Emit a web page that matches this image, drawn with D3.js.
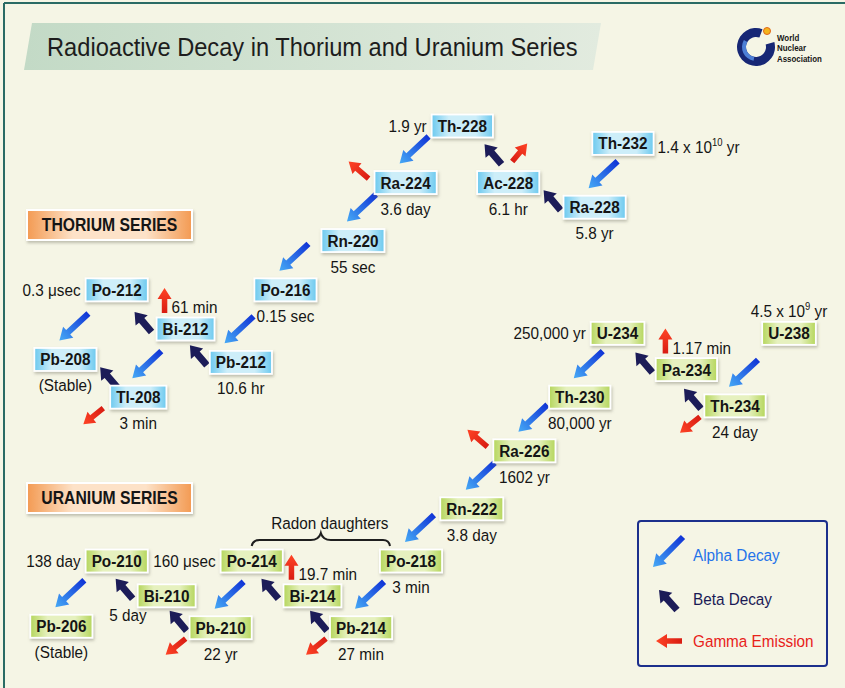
<!DOCTYPE html>
<html>
<head>
<meta charset="utf-8">
<script src="https://cdn.jsdelivr.net/npm/d3@7"></script>
<style>
  body { margin: 0; background: #f5f5e5; }
  svg text { font-family: "Liberation Sans", Arial, sans-serif; }
</style>
</head>
<body>
<svg id="chart"></svg>
<script>
// ---- thorium series: nuclide, half-life, where the half-life sits, grid column / row
const thNames     = ["Th-232", "Ra-228", "Ac-228", "Th-228", "Ra-224", "Rn-220", "Po-216", "Pb-212", "Bi-212", "Po-212", "Tl-208", "Pb-208"];
const thHalfLife  = ["1.4 x 10^10 yr", "5.8 yr", "6.1 hr", "1.9 yr", "3.6 day", "55 sec", "0.15 sec", "10.6 hr", "61 min", "0.3 μsec", "3 min", "(Stable)"];
const thLabelSide = ["right", "below", "below", "left", "below", "below", "below", "below", "gamma", "left", "below", "below"];
const thCol       = [20.85, 19.8, 16.6, 14.9, 12.8, 10.85, 8.35, 6.7, 4.65, 2.1, 2.9, 0.2];
const thRow       = [0.6, 2.8, 1.95, 0, 1.95, 3.95, 5.65, 8.15, 7.0, 5.65, 9.35, 8.05];

// ---- uranium series
const uNames     = ["U-238", "Th-234", "Pa-234", "U-234", "Th-230", "Ra-226", "Rn-222", "Po-218", "Pb-214", "Bi-214", "Po-214", "Pb-210", "Bi-210", "Po-210", "Pb-206"];
const uHalfLife  = ["4.5 x 10^9 yr", "24 day", "1.17 min", "250,000 yr", "80,000 yr", "1602 yr", "3.8 day", "3 min", "27 min", "19.7 min", "160 μsec", "22 yr", "5 day", "138 day", "(Stable)"];
const uLabelSide = ["above", "below", "gamma", "left", "below", "below", "below", "below", "below", "gamma", "left", "below", "belowleft", "left", "below"];
const uCol       = [27.0, 25.0, 23.2, 20.65, 19.25, 17.2, 15.25, 13.0, 11.15, 9.35, 7.1, 5.95, 3.95, 2.1, 0.05];
const uRow       = [7.15, 9.65, 8.4, 7.15, 9.35, 11.2, 13.2, 15.0, 17.3, 16.2, 15.0, 17.3, 16.2, 15.0, 17.25];

// decays: [from, to, type]
const thDecays = [
  ["Th-232", "Ra-228", "alpha"], ["Ra-228", "Ac-228", "beta"], ["Ac-228", "Th-228", "beta"],
  ["Th-228", "Ra-224", "alpha"], ["Ra-224", "Rn-220", "alpha"], ["Rn-220", "Po-216", "alpha"],
  ["Po-216", "Pb-212", "alpha"], ["Pb-212", "Bi-212", "beta"], ["Bi-212", "Po-212", "beta"],
  ["Bi-212", "Tl-208", "alpha"], ["Po-212", "Pb-208", "alpha"], ["Tl-208", "Pb-208", "beta"]
];
const uDecays = [
  ["U-238", "Th-234", "alpha"], ["Th-234", "Pa-234", "beta"], ["Pa-234", "U-234", "beta"],
  ["U-234", "Th-230", "alpha"], ["Th-230", "Ra-226", "alpha"], ["Ra-226", "Rn-222", "alpha"],
  ["Rn-222", "Po-218", "alpha"], ["Po-218", "Pb-214", "alpha"], ["Pb-214", "Bi-214", "beta"],
  ["Bi-214", "Po-214", "beta"], ["Po-214", "Pb-210", "alpha"], ["Pb-210", "Bi-210", "beta"],
  ["Bi-210", "Po-210", "beta"], ["Po-210", "Pb-206", "alpha"]
];

// gamma emissions: [nuclide, direction]
const thGamma = [["Ra-224", "ul"], ["Ac-228", "ur"], ["Bi-212", "u"], ["Tl-208", "dl"]];
const uGamma  = [["Pa-234", "u"], ["Th-234", "dl"], ["Ra-226", "ul"], ["Bi-214", "u"], ["Pb-214", "dl"], ["Pb-210", "dl"]];

const radonDaughters = ["Po-218", "Pb-214", "Bi-214", "Po-214"];
const legendItems = ["Alpha Decay", "Beta Decay", "Gamma Emission"];

const W = 845, H = 688;
const SX = 0.9; // the original lettering is slightly condensed

const svg = d3.select("#chart").attr("width", W).attr("height", H);

const x = d3.scaleLinear().domain([0, 28]).range([60, 816]);
const y = d3.scaleLinear().domain([0, 18]).range([126, 648]);

// ---- defs
const defs = svg.append("defs");
function hGrad(id, edge, mid) {
  const g = defs.append("linearGradient").attr("id", id);
  [[0, edge], [0.28, mid], [0.72, mid], [1, edge]].forEach(([o, c]) =>
    g.append("stop").attr("offset", o).attr("stop-color", c));
}
hGrad("thBox", "#6cc9ef", "#cdeef9");
hGrad("uBox", "#b5d65c", "#e6f1bf");
hGrad("seriesBox", "#f39a52", "#fde2c8");

function lGrad(id, c0, c1) {
  const g = defs.append("linearGradient").attr("id", id);
  g.append("stop").attr("offset", 0).attr("stop-color", c0);
  g.append("stop").attr("offset", 1).attr("stop-color", c1);
}
lGrad("alphaFill", "#1034d6", "#46aaf6");
lGrad("gammaFill", "#d81c12", "#ff4426");
lGrad("banner", "#c3dac6", "#e2ebdf");

const sh = defs.append("filter").attr("id", "shadow")
  .attr("x", "-20%").attr("y", "-40%").attr("width", "140%").attr("height", "180%");
sh.append("feGaussianBlur").attr("in", "SourceAlpha").attr("stdDeviation", 1.5);
sh.append("feOffset").attr("dx", 1).attr("dy", 1.5).attr("result", "b");
sh.append("feFlood").attr("flood-color", "#7a7a6a").attr("flood-opacity", 0.45);
sh.append("feComposite").attr("in2", "b").attr("operator", "in");
const mg = sh.append("feMerge");
mg.append("feMergeNode");
mg.append("feMergeNode").attr("in", "SourceGraphic");

// ---- background and frame
svg.append("rect").attr("width", W).attr("height", H).attr("fill", "#f5f5e5");
svg.append("line").attr("x1", 4).attr("x2", W).attr("y1", 3).attr("y2", 3)
  .attr("stroke", "#2a6b64").attr("stroke-width", 2);
svg.append("line").attr("x1", 4).attr("x2", 4).attr("y1", 3).attr("y2", H)
  .attr("stroke", "#2a6b64").attr("stroke-width", 2);

// title banner
svg.append("path")
  .attr("d", "M32,23L601,23L593,70L24,70Z")
  .attr("fill", "url(#banner)");

const gArrows = svg.append("g");
const gBoxes = svg.append("g");
const gText = svg.append("g");

function addText(parent, tx, ty, str, opt = {}) {
  const size = opt.size || 17;
  const g = parent.append("g").attr("transform", `translate(${tx},${ty}) scale(${opt.sx || SX},1)`);
  const t = g.append("text")
    .attr("text-anchor", opt.anchor || "middle")
    .attr("dy", "0.35em")
    .attr("font-size", size)
    .attr("font-weight", opt.weight || "normal")
    .attr("fill", opt.fill || "#151515");
  const m = str.match(/^(.*)\^(\d+)(.*)$/);
  if (m) {
    t.append("tspan").text(m[1]);
    t.append("tspan").attr("font-size", size * 0.62).attr("dy", -size * 0.42).text(m[2]);
    t.append("tspan").attr("dy", size * 0.42).text(m[3]);
  } else {
    t.text(str);
  }
  return t;
}

// ---- arrows
const arrowStyle = {
  alpha: { shaft: 6, head: 15, headLen: 12, fill: "url(#alphaFill)" },
  beta:  { shaft: 7, head: 16, headLen: 11, fill: "#1c1c58" },
  gamma: { shaft: 5.5, head: 14, headLen: 11, fill: "url(#gammaFill)" }
};
function arrow(x1, y1, x2, y2, kind, parent = gArrows) {
  const s = arrowStyle[kind];
  const L = Math.hypot(x2 - x1, y2 - y1);
  const ang = Math.atan2(y2 - y1, x2 - x1) * 180 / Math.PI;
  const hw = s.shaft / 2, HW = s.head / 2, b = L - s.headLen;
  parent.append("path")
    .attr("transform", `translate(${x1},${y1}) rotate(${ang})`)
    .attr("d", `M0,${-hw}L${b},${-hw}L${b},${-HW}L${L},0L${b},${HW}L${b},${hw}L0,${hw}Z`)
    .attr("fill", s.fill);
}

// ---- nuclide boxes
const pos = {};
function drawSeries(names, halfLives, sides, cols, rows, fill) {
  names.forEach((name, i) => {
    const cx = x(cols[i]), cy = y(rows[i]);
    const t = addText(gText, cx, cy, name, { weight: "bold" });
    const w = t.node().getComputedTextLength() * SX + 12;
    gBoxes.append("rect")
      .attr("x", cx - w / 2).attr("y", cy - 11.5)
      .attr("width", w).attr("height", 23)
      .attr("fill", fill).attr("stroke", "#ffffff").attr("stroke-width", 1.8)
      .attr("filter", "url(#shadow)");

    let lx = cx, ly = cy + 26, anchor = "middle";
    switch (sides[i]) {
      case "left":      lx = cx - w / 2 - 5; ly = cy; anchor = "end"; break;
      case "right":     lx = cx + w / 2 + 4; ly = cy + 4; anchor = "start"; break;
      case "above":     ly = cy - 22; break;
      case "gamma":     lx = cx - 14; ly = cy - 22; anchor = "start"; break;
      case "belowleft": lx = cx - 20; ly = cy + 19; anchor = "end"; break;
    }
    const lt = addText(gText, lx, ly, halfLives[i], { anchor });
    const lw = lt.node().getComputedTextLength() * SX;
    const x0 = anchor === "middle" ? lx - lw / 2 : anchor === "end" ? lx - lw : lx;
    pos[name] = { cx, cy, w, side: sides[i], lab: { x0, x1: x0 + lw, y0: ly - 9, y1: ly + 9 } };
  });
}
drawSeries(thNames, thHalfLife, thLabelSide, thCol, thRow, "url(#thBox)");
drawSeries(uNames, uHalfLife, uLabelSide, uCol, uRow, "url(#uBox)");

// arrows sit in the gap between the two boxes, clear of the half-life texts
function drawDecays(decays) {
  decays.forEach(([from, to, kind]) => {
    const s = pos[from], e = pos[to];
    if (kind === "alpha") {
      let hx = e.cx - 6, hy = e.cy - 19, tx = hx + 29, ty = hy - 27;
      if (s.side === "below" && ty >= s.lab.y0 - 2 && tx > s.lab.x0 - 3) {
        const d = tx - (s.lab.x0 - 3);
        hx -= d; tx -= d;
      }
      arrow(tx, ty, hx, hy, "alpha");
    } else if (s.cy - e.cy > 45) {
      const mx = (s.cx - s.w / 2 + e.cx + e.w / 2) / 2 + 8;
      const my = (s.cy - 11.5 + e.cy + 11.5) / 2;
      arrow(mx + 8.5, my + 10, mx - 8.5, my - 10, "beta");
    } else {
      let tx = s.cx - 34, ty = s.cy + 3, hx = tx - 17, hy = ty - 20;
      if (e.side === "below") {
        const d = e.lab.x1 + 8 - hx;
        if (d > 0) { tx += d; hx += d; ty -= d; hy -= d; }
      }
      arrow(tx, ty, hx, hy, "beta");
    }
  });
}
drawDecays(thDecays);
drawDecays(uDecays);

const gammaOffset = {
  dl: [[-35, 11], [-55, 27]],
  ul: [[-37, -4], [-57, -21]],
  u:  [[-21, -16], [-21, -41]],
  ur: [[4, -21], [19, -39]]
};
thGamma.concat(uGamma).forEach(([name, dir]) => {
  const p = pos[name], [t, h] = gammaOffset[dir];
  arrow(p.cx + t[0], p.cy + t[1], p.cx + h[0], p.cy + h[1], "gamma");
});

// ---- title
addText(svg, 47, 47, "Radioactive Decay in Thorium and Uranium Series", { size: 26, anchor: "start", fill: "#1d1d1d", sx: 0.91 });

// ---- World Nuclear Association logo
const logo = svg.append("g").attr("transform", "translate(756,47)");
logo.append("path")
  .attr("d", d3.arc()({ innerRadius: 10, outerRadius: 19, startAngle: 75 * Math.PI / 180, endAngle: 380 * Math.PI / 180 }))
  .attr("fill", "#172775");
logo.append("path")
  .attr("d", d3.arc()({ innerRadius: 10, outerRadius: 14, startAngle: 190 * Math.PI / 180, endAngle: 300 * Math.PI / 180 }))
  .attr("fill", "#4d7fd6");
logo.append("circle").attr("cx", 11).attr("cy", -16).attr("r", 3.5)
  .attr("fill", "#f4b41c").attr("stroke", "#e0661a").attr("stroke-width", 1);
["World", "Nuclear", "Association"].forEach((w, i) =>
  addText(svg, 777, 37.5 + i * 10.5, w, { size: 8.8, weight: "bold", anchor: "start", sx: 0.9 }));

// ---- series labels
[["THORIUM SERIES", 210], ["URANIUM SERIES", 483]].forEach(([txt, top]) => {
  svg.append("rect").attr("x", 27).attr("y", top).attr("width", 165).attr("height", 30)
    .attr("fill", "url(#seriesBox)").attr("stroke", "#ffffff").attr("stroke-width", 2)
    .attr("filter", "url(#shadow)");
  addText(svg, 109.5, top + 15, txt, { weight: "bold", size: 17.5 });
});

// ---- radon daughters brace
const rdX = radonDaughters.map(n => pos[n].cx);
const bl = d3.min(rdX), br = d3.max(rdX) - 21, by = pos["Po-214"].cy - 15, bm = (bl + br) / 2;
svg.append("path")
  .attr("d", `M${bl},${by}Q${bl + 1},${by - 6} ${bl + 8},${by - 6}L${bm - 10},${by - 6}` +
             `Q${bm - 2},${by - 6} ${bm},${by - 13}Q${bm + 2},${by - 6} ${bm + 10},${by - 6}` +
             `L${br - 7},${by - 6}Q${br - 1},${by - 6} ${br},${by}`)
  .attr("fill", "none").attr("stroke", "#1e1e1e").attr("stroke-width", 2);
addText(svg, bm + 9, by - 23, "Radon daughters");

// ---- legend
const lg = svg.append("g").attr("transform", "translate(638,521)");
lg.append("rect").attr("width", 189).attr("height", 145).attr("rx", 3)
  .attr("fill", "none").attr("stroke", "#1c2f8c").attr("stroke-width", 2);
arrow(45, 16, 15, 46, "alpha", lg);
arrow(39, 89, 21, 69, "beta", lg);
arrow(44, 120, 18, 120, "gamma", lg);
const legendColor = ["#2473ea", "#1a1a55", "#e8221a"];
const legendY = [34, 78, 120];
legendItems.forEach((txt, i) =>
  addText(lg, 55, legendY[i], txt, { anchor: "start", fill: legendColor[i] }));
</script>
</body>
</html>
